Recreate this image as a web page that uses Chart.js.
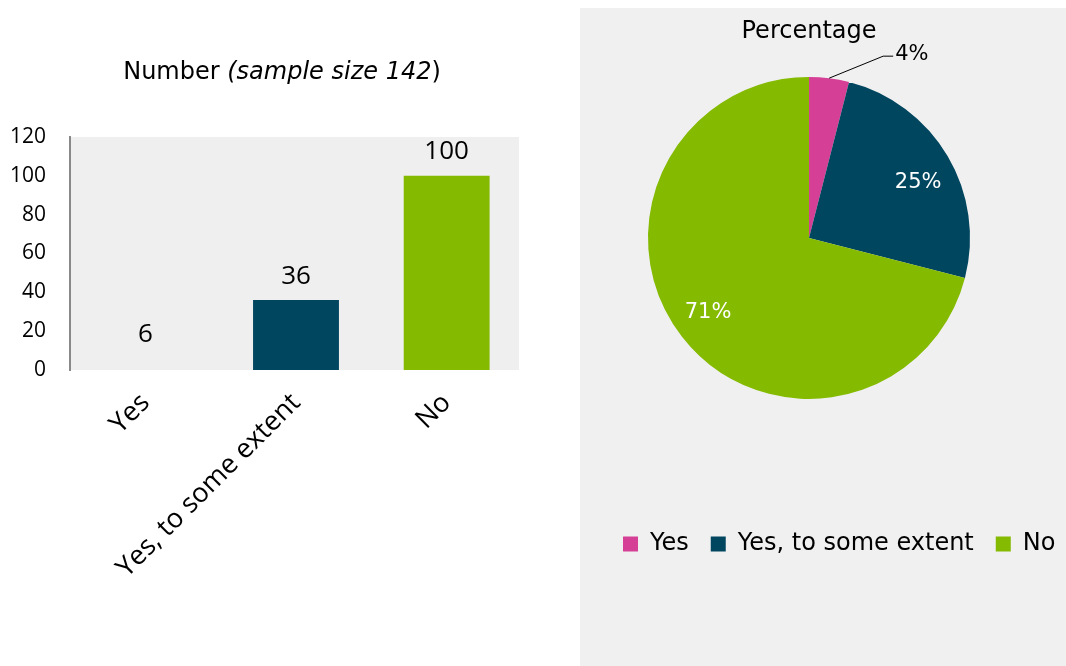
<!DOCTYPE html>
<html lang="en">
<head>
<meta charset="UTF-8" />
<title>Responses: number and percentage</title>
<script src="https://cdn.jsdelivr.net/npm/chart.js@4.4.1/dist/chart.umd.min.js"></script>
<style>
    body {
        margin: 0;
        width: 1066px;
        height: 666px;
        overflow: hidden;
        background: #ffffff;
        position: relative;
    }
    #barBox { position: absolute; left: 0; top: 0; }
    #piePanel {
        position: absolute;
        left: 580px;
        top: 8px;
        width: 486px;
        height: 658px;
        background: #f0f0f0;
    }
    #pieBox { position: absolute; left: 552px; top: 8px; }
</style>
</head>
<body>
<canvas id="barBox" width="568" height="666"></canvas>
<div id="piePanel"></div>
<canvas id="pieBox" width="514" height="658"></canvas>

<script>
// === Data ===
const categories = ["Yes", "Yes, to some extent", "No"];
const counts = [6, 36, 100];
const percentages = [4, 25, 71];
const yTickValues = [0, 20, 40, 60, 80, 100, 120];
const sampleSize = 142;

// "Yes" has no fill in the bar chart, only in the pie
const barColors = ["rgba(0,0,0,0)", "#00465f", "#84ba00"];
const sliceColors = ["#d63f96", "#00465f", "#84ba00"];

const SANS = "'Open Sans', sans-serif";
const TAHOMA_LIKE = "'DejaVu Sans', sans-serif";

// === Bar chart helpers ===
const plotBackground = {
    id: "plotBackground",
    beforeDraw(chart) {
        const { ctx, chartArea: a } = chart;
        ctx.save();
        ctx.fillStyle = "#efefef";
        ctx.fillRect(a.left, a.top, a.right - a.left - 3, a.bottom - a.top);
        ctx.restore();
    }
};

// title with an italic part, so it is drawn by hand
const mixedTitle = {
    id: "mixedTitle",
    afterDraw(chart) {
        const ctx = chart.ctx;
        const parts = [
            { text: "Number ", font: "24px " + TAHOMA_LIKE },
            { text: "(sample size " + sampleSize, font: "italic 24px " + TAHOMA_LIKE },
            { text: ")", font: "24px " + TAHOMA_LIKE }
        ];
        ctx.save();
        ctx.fillStyle = "#000";
        ctx.textBaseline = "middle";
        ctx.textAlign = "left";
        let total = 0;
        parts.forEach((p) => { ctx.font = p.font; p.w = ctx.measureText(p.text).width; total += p.w; });
        let x = 282 - total / 2;
        parts.forEach((p) => { ctx.font = p.font; ctx.fillText(p.text, x, 73); x += p.w; });
        ctx.restore();
    }
};

const barValues = {
    id: "barValues",
    afterDatasetsDraw(chart) {
        const ctx = chart.ctx;
        const bars = chart.getDatasetMeta(0).data;
        ctx.save();
        ctx.font = "26px " + SANS;
        ctx.fillStyle = "#000";
        ctx.textAlign = "center";
        ctx.textBaseline = "middle";
        bars.forEach((bar, i) => {
            ctx.fillText(String(counts[i]), bar.x, bar.y - 24);
        });
        ctx.restore();
    }
};

new Chart(document.getElementById("barBox"), {
    type: "bar",
    data: {
        labels: categories,
        datasets: [{
            data: counts,
            backgroundColor: barColors,
            borderWidth: 0,
            categoryPercentage: 1,
            barPercentage: 0.57
        }]
    },
    options: {
        responsive: false,
        animation: false,
        layout: { padding: { top: 137, right: 46, left: 0, bottom: 0 } },
        scales: {
            x: {
                grid: { display: false, drawTicks: false },
                border: { display: false },
                ticks: {
                    color: "#000",
                    font: { family: SANS, size: 27 },
                    minRotation: 45,
                    maxRotation: 45,
                    autoSkip: false,
                    padding: 17
                },
                afterFit: (scale) => { scale.height = 296; }
            },
            y: {
                min: yTickValues[0],
                max: yTickValues[yTickValues.length - 1],
                afterBuildTicks: (scale) => { scale.ticks = yTickValues.map((v) => ({ value: v })); },
                grid: { display: false, drawTicks: false },
                border: { display: true, color: "#898989", width: 2 },
                ticks: {
                    color: "#000",
                    font: { family: SANS, size: 21 },
                    padding: 24
                },
                afterFit: (scale) => { scale.width = 70; }
            }
        },
        plugins: {
            legend: { display: false },
            tooltip: { enabled: false }
        }
    },
    plugins: [plotBackground, barValues, mixedTitle]
});

// === Pie chart helpers ===
// the legend sits well below the pie, starting near the panel's left edge
const LEGEND_LEFT = 49;
const LEGEND_TOP = 502;
const moveLegend = {
    id: "moveLegend",
    afterLayout(chart) {
        const lg = chart.legend;
        const dx = LEGEND_LEFT - lg.left;
        const dy = LEGEND_TOP - lg.top;
        lg.left += dx; lg.right += dx;
        lg.top += dy; lg.bottom += dy;
    }
};

const pieLabels = {
    id: "pieLabels",
    afterDatasetsDraw(chart) {
        const ctx = chart.ctx;
        const arcs = chart.getDatasetMeta(0).data;
        ctx.save();
        ctx.font = "21px " + TAHOMA_LIKE;
        ctx.textBaseline = "middle";
        arcs.forEach((arc, i) => {
            const p = arc.getProps(["x", "y", "startAngle", "endAngle", "outerRadius"], true);
            const mid = (p.startAngle + p.endAngle) / 2;
            const text = percentages[i] + "%";
            if (percentages[i] < 10) {
                // thin slice: label outside with a leader line
                const ex = p.x + Math.cos(mid) * p.outerRadius;
                const ey = p.y + Math.sin(mid) * p.outerRadius;
                const kx = ex + 54, ky = ey - 22;
                ctx.strokeStyle = "#000";
                ctx.lineWidth = 1;
                ctx.beginPath();
                ctx.moveTo(ex, ey);
                ctx.lineTo(kx, ky);
                ctx.lineTo(kx + 10, ky);
                ctx.stroke();
                ctx.fillStyle = "#000";
                ctx.textAlign = "left";
                ctx.fillText(text, kx + 12, ky - 2);
            } else {
                // pushed a little toward the lower side of the slice
                const r = p.outerRadius * 0.77;
                const a = mid + 0.04;
                ctx.fillStyle = "#fff";
                ctx.textAlign = "center";
                ctx.fillText(text, p.x + Math.cos(a) * r, p.y + Math.sin(a) * r + 3);
            }
        });
        ctx.restore();
    }
};

new Chart(document.getElementById("pieBox"), {
    type: "pie",
    data: {
        labels: categories,
        datasets: [{
            data: percentages,
            backgroundColor: sliceColors,
            borderWidth: 0,
            radius: 161
        }]
    },
    options: {
        responsive: false,
        animation: false,
        layout: { padding: { bottom: 190 } },
        plugins: {
            title: {
                display: true,
                text: "Percentage",
                color: "#000",
                font: { family: TAHOMA_LIKE, size: 24, weight: "normal" },
                padding: { top: 9, bottom: 10 }
            },
            legend: {
                position: "bottom",
                align: "start",
                labels: {
                    color: "#000",
                    boxWidth: 15,
                    boxHeight: 15,
                    padding: 22,
                    font: { family: TAHOMA_LIKE, size: 24 }
                }
            },
            tooltip: { enabled: false }
        }
    },
    plugins: [moveLegend, pieLabels]
});
</script>
</body>
</html>
